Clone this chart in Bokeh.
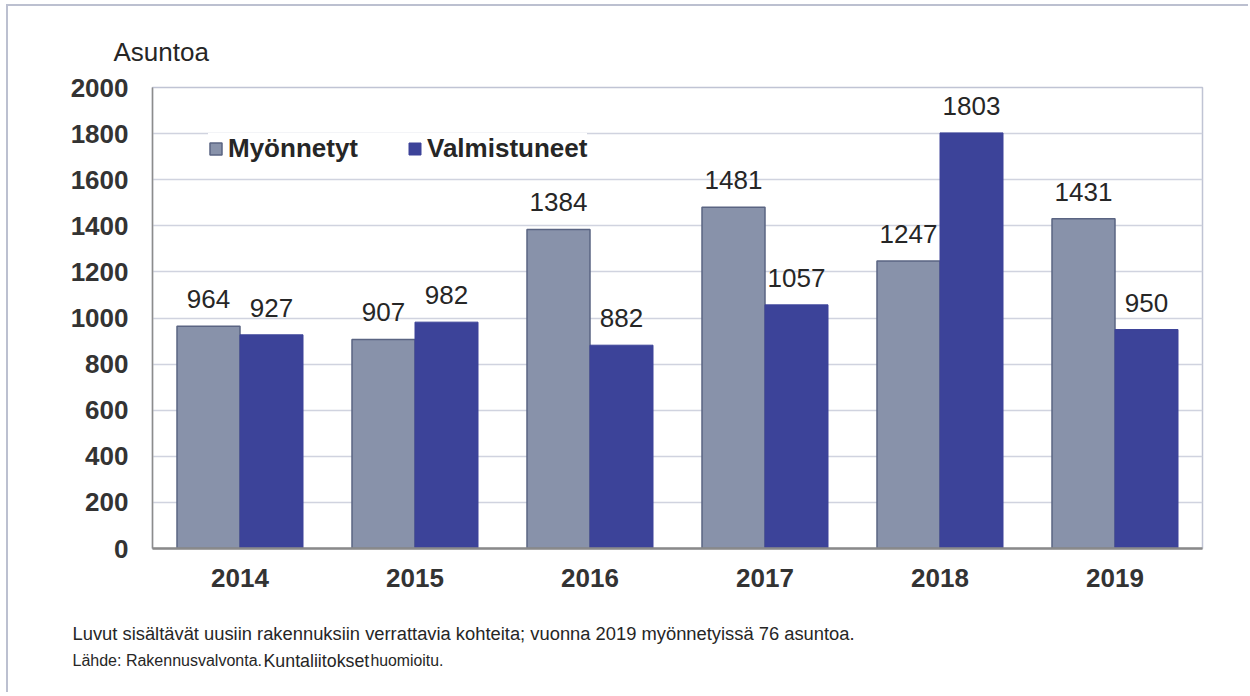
from bokeh.plotting import figure
from bokeh.layouts import column
from bokeh.models import (FactorRange, Range1d, Legend, LegendItem, ColumnDataSource,
                          FixedTicker, Title)
from bokeh.transform import dodge
from bokeh.core.properties import value
from bokeh.embed import file_html
from bokeh.resources import INLINE

years = ["2014", "2015", "2016", "2017", "2018", "2019"]
myonnetyt = [964, 907, 1384, 1481, 1247, 1431]
valmistuneet = [927, 982, 882, 1057, 1803, 950]
y_ticks = [0, 200, 400, 600, 800, 1000, 1200, 1400, 1600, 1800, 2000]

FONT = "Liberation Sans"
C_MY = "#8892aa"
C_MY_LINE = "#5a6482"
C_VA = "#3c4399"
TXT = "#262626"

src = ColumnDataSource(dict(
    years=years, my=myonnetyt, va=valmistuneet,
    my_t=[str(v) for v in myonnetyt], va_t=[str(v) for v in valmistuneet],
))

W = 1240
p = figure(
    width=W, height=606,
    x_range=FactorRange(*years, range_padding=0),
    y_range=Range1d(0, 2000),
    output_backend="svg", toolbar_location=None,
    min_border_left=144, min_border_right=46,
    min_border_top=81, min_border_bottom=64,
)
p.frame_align = False

r1 = p.vbar(x=dodge("years", -0.18, range=p.x_range), top="my", width=0.36, source=src,
            fill_color=C_MY, line_color=C_MY_LINE, line_width=1.5)
r2 = p.vbar(x=dodge("years", 0.18, range=p.x_range), top="va", width=0.36, source=src,
            fill_color=C_VA, line_color=C_VA, line_width=1)

p.text(x=dodge("years", -0.18, range=p.x_range), y="my", text="my_t", source=src,
       text_align="center", text_baseline="bottom", y_offset=-18,
       text_font=value(FONT), text_font_size="26px", text_color=TXT)
p.text(x=dodge("years", 0.18, range=p.x_range), y="va", text="va_t", source=src,
       text_align="center", text_baseline="bottom", y_offset=-18,
       text_font=value(FONT), text_font_size="26px", text_color=TXT)

p.xgrid.grid_line_color = None
p.ygrid.grid_line_color = "#d0d3df"
p.ygrid.grid_line_width = 1.5
p.outline_line_color = "#c0c4d4"
p.outline_line_width = 1.5
p.background_fill_color = "white"

p.yaxis.ticker = FixedTicker(ticks=y_ticks)
for ax in (p.xaxis[0], p.yaxis[0]):
    ax.major_tick_line_color = None
    ax.minor_tick_line_color = None
    ax.major_tick_out = 0
    ax.major_tick_in = 0
    ax.major_label_text_font = FONT
    ax.major_label_text_font_size = "26px"
    ax.major_label_text_font_style = "bold"
    ax.major_label_text_color = "#333333"
p.yaxis.axis_line_color = "#8c8c8c"
p.yaxis.axis_line_width = 1.5
p.xaxis.axis_line_color = "#8a8a8a"
p.xaxis.axis_line_width = 2.5
p.yaxis.major_label_standoff = 24
p.xaxis.major_label_standoff = 20

legend = Legend(items=[LegendItem(label="Myönnetyt", renderers=[r1]),
                       LegendItem(label="Valmistuneet", renderers=[r2])],
                orientation="horizontal", location=(56, 384),
                glyph_width=15, glyph_height=15, label_standoff=5, spacing=49,
                padding=10, margin=0,
                label_text_font=FONT, label_text_font_size="26px",
                label_text_font_style="bold", label_text_color=TXT,
                border_line_color=None, background_fill_color="white", background_fill_alpha=1)
p.add_layout(legend, "center")

# unit label above the y axis
p.add_layout(Title(text="Asuntoa", align="left", offset=-39, standoff=42,
                   text_font=FONT, text_font_size="26px", text_font_style="normal",
                   text_color=TXT), "above")

# footnote strip
FH = 80
note_text = ["Luvut sisältävät uusiin rakennuksiin verrattavia kohteita; vuonna 2019 myönnetyissä 76 asuntoa.",
             "Lähde: Rakennusvalvonta.", "Kuntaliitokset", "huomioitu."]
note_x = [64, 64, 255, 362]
note_y = [59, 32, 32, 32]
note_size = ["18.35px", "16px", "17.8px", "15.8px"]

q = figure(width=W, height=FH, x_range=Range1d(0, W), y_range=Range1d(0, FH),
           output_backend="svg", toolbar_location=None,
           x_axis_type=None, y_axis_type=None,
           min_border_left=0, min_border_right=0, min_border_top=0, min_border_bottom=0)
q.frame_align = False
q.xgrid.grid_line_color = None
q.ygrid.grid_line_color = None
q.outline_line_color = None
q.text(x=note_x, y=note_y, text=note_text, text_font_size=note_size,
       text_font=value(FONT), text_color=TXT, text_baseline="alphabetic", text_align="left")

layout = column(p, q, spacing=0)
layout.styles = {"border-left": "2px solid #bcc0d0", "border-top": "2px solid #bcc0d0",
                 "margin-left": "6px", "margin-top": "4px"}

open("out.html", "w").write(file_html(layout, INLINE))
